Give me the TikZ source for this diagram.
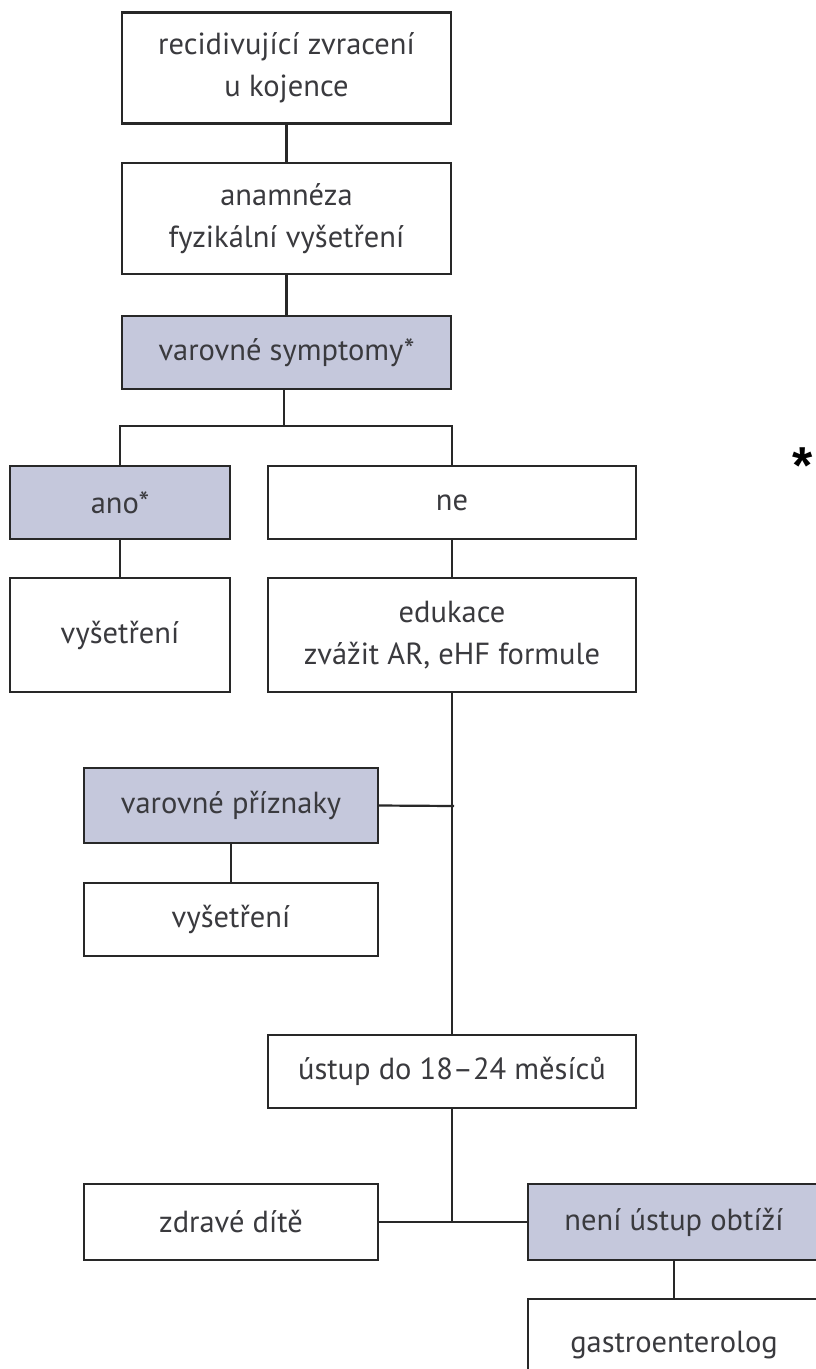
\documentclass[tikz,border=0pt]{standalone}
\usepackage{fontspec}
\setmainfont{PT Sans}
\newfontfamily\markfont{Liberation Sans}
\definecolor{warnfill}{RGB}{197,200,220}
\definecolor{ink}{RGB}{40,40,40}
\definecolor{txt}{RGB}{58,58,62}
\begin{document}
\begin{tikzpicture}[x=1pt,y=-1pt,
  box/.style={draw=ink,line width=2.2pt,fill=white,rectangle,inner sep=0pt,
    align=center,text=txt,font=\fontsize{30.5}{42}\selectfont},
  warn/.style={box,fill=warnfill},
  link/.style={draw=ink,line width=2.2pt}]
\useasboundingbox (0,0) rectangle (815,1369);
% main column
\node[box,minimum width=329pt,minimum height=111pt] (start) at (286.5,68) {recidivující zvracení\\u kojence};
\node[box,minimum width=329pt,minimum height=111pt] (exam) at (286.5,218.5) {anamnéza\\fyzikální vyšetření};
\node[warn,minimum width=329pt,minimum height=73pt] (sympt) at (286.5,352.5) {varovné symptomy*};
% yes / no branch
\node[warn,minimum width=220pt,minimum height=73pt] (yes) at (120,502.5) {ano*};
\node[box,minimum width=368pt,minimum height=73pt] (no) at (452,502.5) {ne};
\node[box,minimum width=220pt,minimum height=114pt] (check1) at (120,635) {vyšetření};
\node[box,minimum width=368pt,minimum height=114pt] (edu) at (452,635) {edukace\\zvážit AR, eHF formule};
% warning signs later on
\node[warn,minimum width=294pt,minimum height=75pt] (signs) at (231,805.5) {varovné příznaky};
\node[box,minimum width=294pt,minimum height=73pt] (check2) at (231,919.5) {vyšetření};
% outcome
\node[box,minimum width=368pt,minimum height=73pt] (resolve) at (452,1071.5) {ústup do 18–24 měsíců};
\node[box,minimum width=294pt,minimum height=76pt] (healthy) at (231,1222) {zdravé dítě};
\node[warn,minimum width=292pt,minimum height=76pt] (persist) at (674,1222) {není ústup obtíží};
\node[box,minimum width=292pt,minimum height=92pt] (gastro) at (674,1345) {gastroenterolog};
% footnote mark
\node[inner sep=0pt,font=\markfont\bfseries\fontsize{52}{52}\selectfont] (mark) at (803,466) {*};
% connectors
\coordinate (split) at (284,426);
\coordinate (join) at (454,806);
\coordinate (fork) at (452,1222);
\draw[link] (start) -- (exam);
\draw[link] (exam) -- (sympt);
\draw[link] (sympt.south -| split) -- (split);
\draw[link] (yes.north) |- (split) -| (no.north);
\draw[link] (yes) -- (check1);
\draw[link] (no) -- (edu);
\draw[link] (edu) -- (resolve);
\draw[link] (signs.east) -- (join);
\draw[link] (signs) -- (check2);
\draw[link] (resolve) -- (fork);
\draw[link] (healthy) -- (persist);
\draw[link] (persist) -- (gastro);
\end{tikzpicture}
\end{document}
